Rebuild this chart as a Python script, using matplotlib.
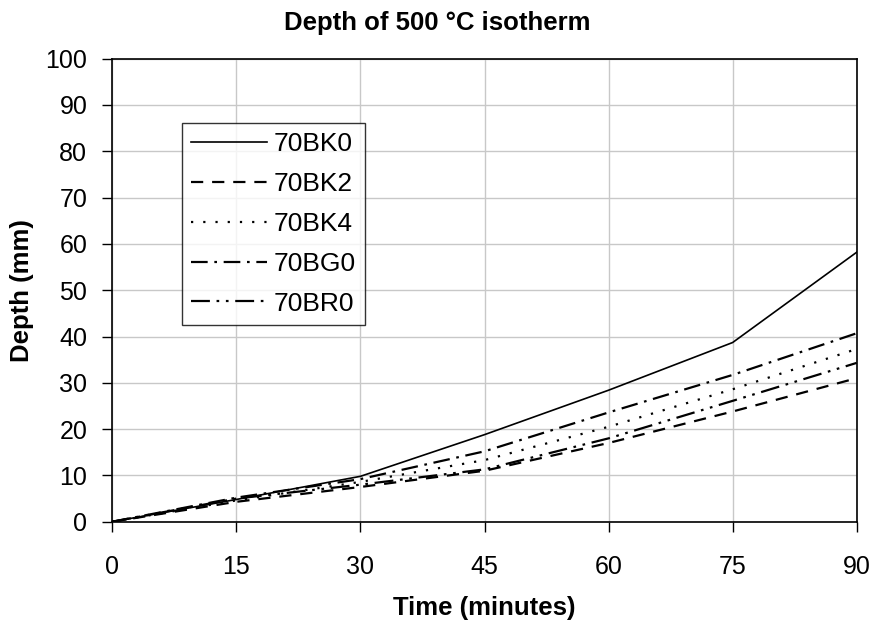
import matplotlib
matplotlib.use("Agg")
import matplotlib.pyplot as plt

plt.rcParams['font.family'] = ['Liberation Sans', 'DejaVu Sans']

# data (depth in mm every 15 min)
time_min = [0, 15, 30, 45, 60, 75, 90]
bk0 = [0, 4.8, 9.8, 18.8, 28.4, 38.7, 58.2]
bk2 = [0, 4.3, 7.5, 11.0, 17.0, 23.8, 31.0]
bk4 = [0, 4.6, 8.6, 13.3, 20.5, 28.6, 37.3]
bg0 = [0, 5.2, 9.2, 15.2, 23.6, 31.7, 40.7]
br0 = [0, 5.0, 8.0, 11.3, 18.0, 26.1, 34.3]

series_names = ['70BK0', '70BK2', '70BK4', '70BG0', '70BR0']
series_vals = [bk0, bk2, bk4, bg0, br0]
xticks = [0, 15, 30, 45, 60, 75, 90]
yticks = list(range(0, 101, 10))

styles = ['-', (0, (5.5, 4)), (0, (1, 4.5)), (0, (7.5, 3, 1.2, 3)),
          (0, (8.5, 3, 1.2, 3, 1.2, 3))]
widths = [1.2, 1.6, 1.6, 1.6, 1.6]

W, H = 874, 627
fig = plt.figure(figsize=(W / 100, H / 100), dpi=100)
ax = fig.add_axes([112.3 / W, 1 - 521.7 / H, (856.7 - 112.3) / W, (521.7 - 58.7) / H])

for name, vals, ls, lw in zip(series_names, series_vals, styles, widths):
    ax.plot(time_min, vals, color='k', linestyle=ls, linewidth=lw, label=name)

ax.set_xlim(0, 90)
ax.set_ylim(0, 100)
ax.set_xticks(xticks)
ax.set_yticks(yticks)
ax.grid(True, color='#c8c8c8', linewidth=1.0)
ax.set_axisbelow(True)
for sp in ax.spines.values():
    sp.set_color('k')
    sp.set_linewidth(1.2)
ax.tick_params(direction='out', length=7, width=1.0, labelsize=18, color='k')
ax.tick_params(axis='x', pad=17)
ax.tick_params(axis='y', pad=11)

ax.set_xlabel('Time (minutes)', fontsize=18.5, fontweight='bold', labelpad=12)
ax.set_ylabel('Depth (mm)', fontsize=18.5, fontweight='bold', labelpad=8)
fig.text(0.5, 1 - 23 / H, 'Depth of 500 \u00b0C isotherm', ha='center', va='center',
         fontsize=18.5, fontweight='bold')

leg = ax.legend(loc='upper left', bbox_to_anchor=(181.7 / W, 1 - 123 / H),
                bbox_transform=fig.transFigure, fontsize=19, frameon=True,
                fancybox=False, edgecolor='k', handlelength=2.9, handletextpad=0.25,
                labelspacing=0.6, borderpad=0.35, borderaxespad=0)
leg.get_frame().set_linewidth(1.0)

fig.savefig('out.png', dpi=100)
